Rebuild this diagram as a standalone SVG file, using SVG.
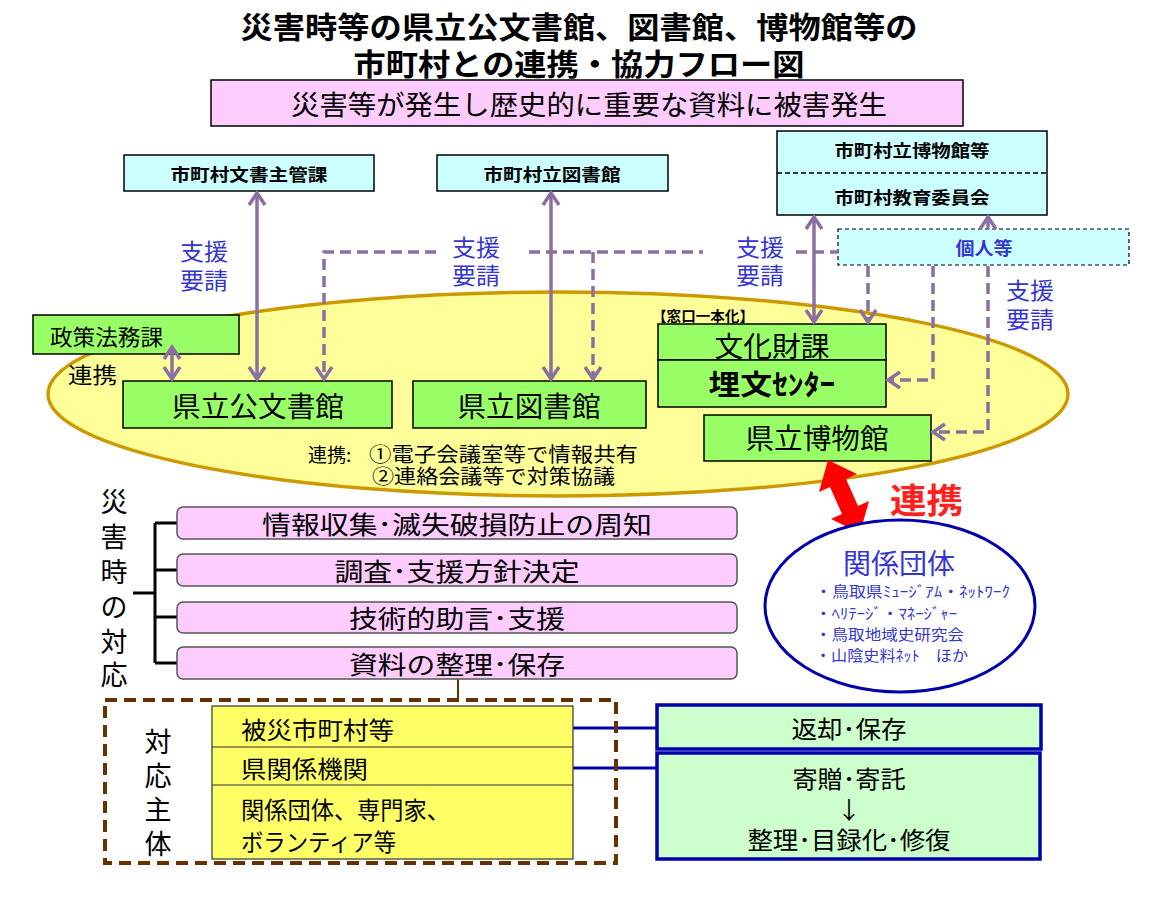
<svg xmlns="http://www.w3.org/2000/svg" width="1172" height="898" viewBox="0 0 1172 898">
<defs>
<style>
text{font-family:"Noto Sans CJK JP","Noto Sans",sans-serif;dominant-baseline:central;fill:#000}
.c{text-anchor:middle}
.b{font-weight:700}
.blue{fill:#3535D0}
.cyan{fill:#CCFFFF;stroke:#000;stroke-width:1.5}
.grn{fill:#99FF66;stroke:#000;stroke-width:1.5}
.pink{fill:#FFCCFF;stroke:#555;stroke-width:1.5}
.sol{fill:none;stroke:#8C6FA0;stroke-width:3.5}
.dsh{fill:none;stroke:#8C6FA0;stroke-width:3.5;stroke-dasharray:11 6}
.bl{fill:none;stroke:#0000AA;stroke-width:3}
.gb{fill:#CCFFCC;stroke:#0000AA;stroke-width:3.5}
</style>
<marker id="ah" markerUnits="userSpaceOnUse" markerWidth="16" markerHeight="20" refX="13" refY="10" orient="auto-start-reverse">
<path d="M1,2 L13,10 L1,18" fill="none" stroke="#8C6FA0" stroke-width="3.5" stroke-dasharray="none"/>
</marker>
</defs>

<g id="title">
<text class="c b" x="579" y="25" font-size="30" textLength="677" lengthAdjust="spacingAndGlyphs">災害時等の県立公文書館、図書館、博物館等の</text>
<text class="c b" x="579" y="62" font-size="30" textLength="451" lengthAdjust="spacingAndGlyphs">市町村との連携・協力フロー図</text>
</g>

<g id="event">
<rect x="211" y="80" width="752" height="46" fill="#FFCCFF" stroke="#000" stroke-width="1.5"/>
<text class="c" x="589" y="103" font-size="27" textLength="596" lengthAdjust="spacingAndGlyphs">災害等が発生し歴史的に重要な資料に被害発生</text>
</g>

<g id="ellipse-pref">
<ellipse cx="558" cy="394" rx="510" ry="102" fill="#FFFF99" stroke="#CC9900" stroke-width="3.5"/>
<text x="308" y="453" font-size="19">連携:</text>
<text font-size="20"><tspan x="369" y="453" textLength="269" lengthAdjust="spacingAndGlyphs">①電子会議室等で情報共有</tspan><tspan x="372" y="475" textLength="243" lengthAdjust="spacingAndGlyphs">②連絡会議等で対策協議</tspan></text>
</g>

<g id="muni-archive">
<rect class="cyan" x="124" y="155" width="250" height="36"/>
<text class="c b" x="249" y="173" font-size="17" textLength="157" lengthAdjust="spacingAndGlyphs">市町村文書主管課</text>
</g>
<g id="muni-library">
<rect class="cyan" x="437" y="155" width="231" height="36"/>
<text class="c b" x="552" y="173" font-size="17" textLength="137" lengthAdjust="spacingAndGlyphs">市町村立図書館</text>
</g>
<g id="muni-museum">
<rect class="cyan" x="777" y="131" width="270" height="84"/>
<line x1="777" y1="173" x2="1047" y2="173" stroke="#000" stroke-width="1.5" stroke-dasharray="5 3"/>
<text class="c b" x="912" y="149" font-size="17" textLength="155" lengthAdjust="spacingAndGlyphs">市町村立博物館等</text>
<text class="c b" x="912" y="196" font-size="17" textLength="155" lengthAdjust="spacingAndGlyphs">市町村教育委員会</text>
</g>
<g id="individual">
<rect x="838" y="229" width="291" height="36" fill="#CCFFFF" stroke="#000" stroke-width="1.2" stroke-dasharray="4 3"/>
<text class="c b blue" x="984" y="247" font-size="18" textLength="57" lengthAdjust="spacingAndGlyphs">個人等</text>
</g>

<g id="policy">
<rect class="grn" x="33" y="315" width="206" height="39"/>
<text x="50" y="335" font-size="22" textLength="113" lengthAdjust="spacingAndGlyphs">政策法務課</text>
<text x="68" y="373" font-size="22" textLength="49" lengthAdjust="spacingAndGlyphs">連携</text>
</g>
<g id="pref-archive">
<rect class="grn" x="123" y="381" width="269" height="47"/>
<text class="c" x="258" y="405" font-size="28" textLength="172" lengthAdjust="spacingAndGlyphs">県立公文書館</text>
</g>
<g id="pref-library">
<rect class="grn" x="413" y="381" width="233" height="47"/>
<text class="c" x="529" y="405" font-size="28" textLength="143" lengthAdjust="spacingAndGlyphs">県立図書館</text>
</g>
<g id="culture">
<text x="652" y="315" font-size="14" class="b" textLength="102" lengthAdjust="spacingAndGlyphs">【窓口一本化】</text>
<rect class="grn" x="658" y="324" width="228" height="36"/>
<rect class="grn" x="658" y="360" width="228" height="47"/>
<text class="c" x="772" y="345" font-size="28" textLength="115" lengthAdjust="spacingAndGlyphs">文化財課</text>
<text class="c b" x="772" y="383" font-size="28" textLength="127" lengthAdjust="spacingAndGlyphs">埋文ｾﾝﾀｰ</text>
</g>
<g id="pref-museum">
<rect class="grn" x="704" y="415" width="227" height="46"/>
<text class="c" x="817" y="437" font-size="28" textLength="143" lengthAdjust="spacingAndGlyphs">県立博物館</text>
</g>

<g id="connectors">
<path class="sol" d="M257,193 V379" marker-start="url(#ah)" marker-end="url(#ah)"/>
<path class="sol" d="M551,193 V379" marker-start="url(#ah)" marker-end="url(#ah)"/>
<path class="sol" d="M814,217 V322" marker-start="url(#ah)" marker-end="url(#ah)"/>
<path class="sol" d="M172,347 V379" marker-start="url(#ah)" marker-end="url(#ah)"/>
<path class="dsh" d="M436,252 H324 V379" marker-end="url(#ah)"/>
<path class="dsh" d="M529,252 H703"/>
<path class="dsh" d="M796,252 H838"/>
<path class="dsh" d="M593,252 V379" marker-end="url(#ah)"/>
<path class="dsh" d="M868,266 V322" marker-end="url(#ah)"/>
<path class="dsh" d="M933,266 V380 H888" marker-end="url(#ah)"/>
<path class="dsh" d="M988,266 V432 H933" marker-end="url(#ah)"/>
<path class="dsh" d="M988,229 V217" marker-end="url(#ah)"/>
<polygon points="828,460 857,474 846,479 858,506 869,501 860,533 831,519 842,514 830,487 819,492" fill="#FF0000"/>
<path d="M458,679 V700" fill="none" stroke="#663300" stroke-width="2"/>
<path class="bl" d="M573,728 H657"/>
<path class="bl" d="M573,768 H662"/>
<path d="M133,593 H155 M155,523 V663 M155,523 H177 M155,570 H177 M155,617 H177 M155,663 H177" fill="none" stroke="#000" stroke-width="3"/>
</g>

<g id="labels">
<text class="blue" font-size="23"><tspan x="180" y="250" textLength="48" lengthAdjust="spacingAndGlyphs">支援</tspan><tspan x="180" y="279" textLength="48" lengthAdjust="spacingAndGlyphs">要請</tspan></text>
<text class="blue" font-size="23"><tspan x="452" y="246" textLength="48" lengthAdjust="spacingAndGlyphs">支援</tspan><tspan x="452" y="274" textLength="48" lengthAdjust="spacingAndGlyphs">要請</tspan></text>
<text class="blue" font-size="23"><tspan x="736" y="246" textLength="48" lengthAdjust="spacingAndGlyphs">支援</tspan><tspan x="736" y="274" textLength="48" lengthAdjust="spacingAndGlyphs">要請</tspan></text>
<text class="blue" font-size="23"><tspan x="1006" y="289" textLength="48" lengthAdjust="spacingAndGlyphs">支援</tspan><tspan x="1006" y="318" textLength="48" lengthAdjust="spacingAndGlyphs">要請</tspan></text>
<text class="b" x="890" y="498" font-size="34" style="fill:#FF2020" textLength="73" lengthAdjust="spacingAndGlyphs">連携</text>
</g>

<g id="groups">
<ellipse cx="900" cy="606" rx="135" ry="86" fill="#fff" stroke="#0000AA" stroke-width="3"/>
<text class="c blue" x="899" y="562" font-size="28" textLength="112" lengthAdjust="spacingAndGlyphs">関係団体</text>
<text class="blue" font-size="15"><tspan x="815" y="590" textLength="195" lengthAdjust="spacingAndGlyphs">・鳥取県ﾐｭｰｼﾞｱﾑ・ﾈｯﾄﾜｰｸ</tspan><tspan x="815" y="612" textLength="142" lengthAdjust="spacingAndGlyphs">・ﾍﾘﾃｰｼﾞ・ﾏﾈｰｼﾞｬｰ</tspan><tspan x="815" y="633" textLength="149" lengthAdjust="spacingAndGlyphs">・鳥取地域史研究会</tspan><tspan x="815" y="654" textLength="153" lengthAdjust="spacingAndGlyphs">・山陰史料ﾈｯﾄ　ほか</tspan></text>
</g>

<g id="response-label">
<text class="c" font-size="27"><tspan x="114" y="500">災</tspan><tspan x="114" y="535">害</tspan><tspan x="114" y="570">時</tspan><tspan x="114" y="605">の</tspan><tspan x="114" y="640">対</tspan><tspan x="114" y="673">応</tspan></text>
</g>
<g id="step1"><rect class="pink" x="177" y="507" width="560" height="32" rx="6"/><text class="c" x="457" y="523" font-size="25" textLength="390" lengthAdjust="spacingAndGlyphs">情報収集･滅失破損防止の周知</text></g>
<g id="step2"><rect class="pink" x="177" y="554" width="560" height="32" rx="6"/><text class="c" x="457" y="570" font-size="25" textLength="245" lengthAdjust="spacingAndGlyphs">調査･支援方針決定</text></g>
<g id="step3"><rect class="pink" x="177" y="602" width="560" height="31" rx="6"/><text class="c" x="457" y="617" font-size="25" textLength="216" lengthAdjust="spacingAndGlyphs">技術的助言･支援</text></g>
<g id="step4"><rect class="pink" x="177" y="647" width="560" height="32" rx="6"/><text class="c" x="457" y="663" font-size="25" textLength="216" lengthAdjust="spacingAndGlyphs">資料の整理･保存</text></g>

<g id="actors">
<rect x="105" y="700" width="511" height="163" fill="none" stroke="#663300" stroke-width="4" stroke-dasharray="12 7"/>
<text class="c" font-size="27"><tspan x="158" y="740">対</tspan><tspan x="158" y="774">応</tspan><tspan x="158" y="808">主</tspan><tspan x="158" y="842">体</tspan></text>
<rect x="212" y="706" width="361" height="153" fill="#FFFF66" stroke="#333" stroke-width="1.2"/>
<line x1="212" y1="747" x2="573" y2="747" stroke="#333" stroke-width="1.2"/>
<line x1="212" y1="785" x2="573" y2="785" stroke="#333" stroke-width="1.2"/>
<text x="241" y="728" font-size="24" textLength="153" lengthAdjust="spacingAndGlyphs">被災市町村等</text>
<text x="241" y="767" font-size="24" textLength="127" lengthAdjust="spacingAndGlyphs">県関係機関</text>
<text font-size="24"><tspan x="241" y="808" textLength="209" lengthAdjust="spacingAndGlyphs">関係団体、専門家、</tspan><tspan x="241" y="840" textLength="155" lengthAdjust="spacingAndGlyphs">ボランティア等</tspan></text>
</g>

<g id="return">
<rect class="gb" x="657" y="705" width="384" height="44"/>
<text class="c" x="849" y="727" font-size="24" textLength="115" lengthAdjust="spacingAndGlyphs">返却･保存</text>
</g>
<g id="donate">
<rect class="gb" x="657" y="753" width="383" height="106"/>
<text class="c" font-size="24"><tspan x="849" y="777" textLength="113" lengthAdjust="spacingAndGlyphs">寄贈･寄託</tspan><tspan x="849" y="808">↓</tspan><tspan x="849" y="838" textLength="203" lengthAdjust="spacingAndGlyphs">整理･目録化･修復</tspan></text>
</g>
</svg>
